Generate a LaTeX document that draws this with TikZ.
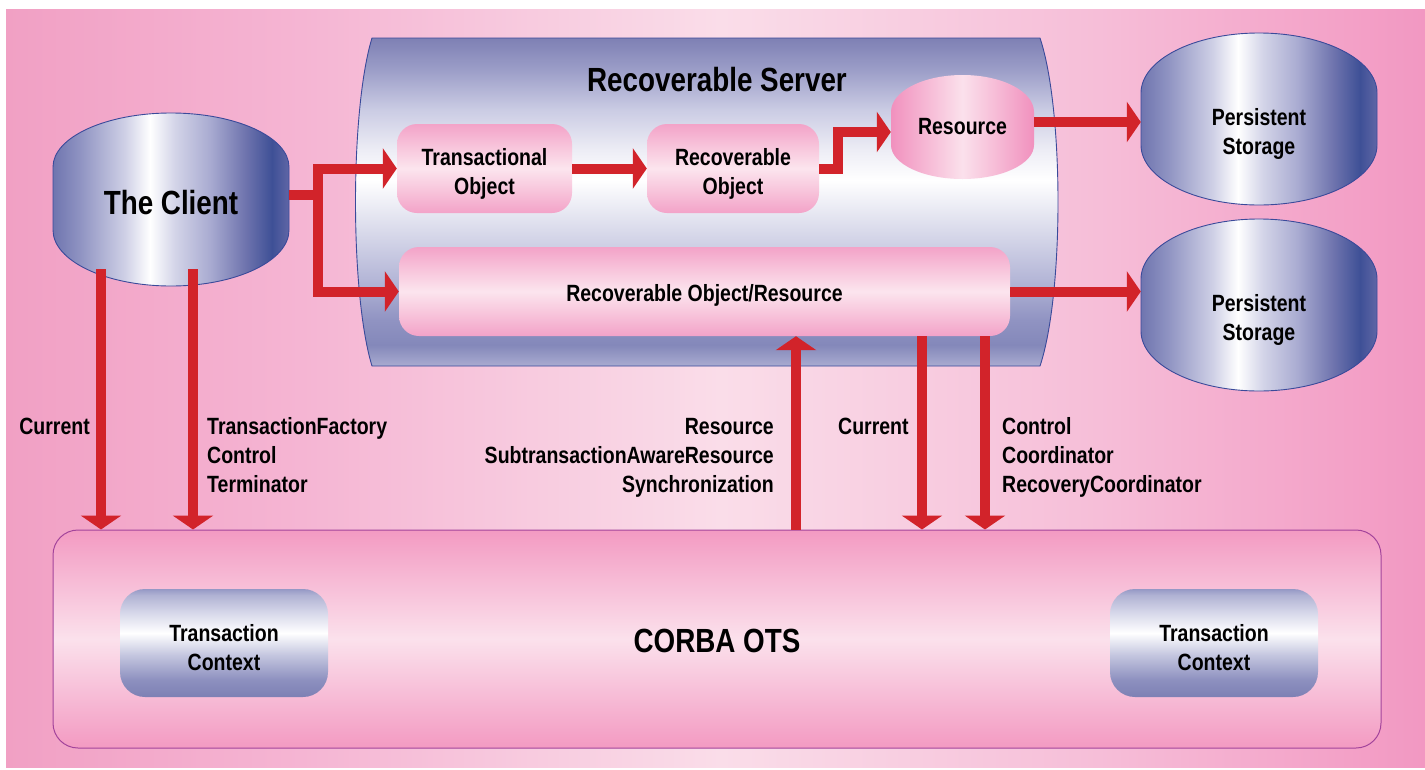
\documentclass[tikz,border=0pt]{standalone}
\usepackage{fontspec}
\setmainfont{Liberation Sans}[FakeStretch=0.83]
\usetikzlibrary{arrows.meta}
\definecolor{arrred}{HTML}{D2232A}
\definecolor{outl}{HTML}{3A4A9A}
\definecolor{corline}{HTML}{A3449B}
% background
\definecolor{bgL}{HTML}{F1A0C4}
\definecolor{bgA}{HTML}{F5B5D3}
\definecolor{bgM}{HTML}{FADDE9}
\definecolor{bgB}{HTML}{F6BED8}
\definecolor{bgR}{HTML}{F298C2}
% server
\definecolor{svA}{HTML}{A9ABD0}
\definecolor{svB}{HTML}{8488BA}
\definecolor{svC}{HTML}{9093C2}
\definecolor{svD}{HTML}{B4B6D7}
\definecolor{svE}{HTML}{EDEDF5}
\definecolor{svF}{HTML}{CBCCE4}
\definecolor{svG}{HTML}{9C9EC8}
\definecolor{svH}{HTML}{7E80B4}
% drums
\definecolor{drA}{HTML}{6F75AF}
\definecolor{drB}{HTML}{8F93C2}
\definecolor{drC}{HTML}{CFD0E6}
\definecolor{drD}{HTML}{D3D4E8}
\definecolor{drE}{HTML}{A9ABD1}
\definecolor{drF}{HTML}{6F74AE}
\definecolor{drG}{HTML}{3E5096}
\definecolor{drH}{HTML}{5F66A6}
% transaction context
\definecolor{tcA}{HTML}{7D80B4}
\definecolor{tcB}{HTML}{8D90BF}
\definecolor{tcC}{HTML}{C4C6DF}
\definecolor{tcD}{HTML}{D5D6E9}
\definecolor{tcE}{HTML}{B0B2D3}
\definecolor{tcF}{HTML}{9598C5}
% pinks
\definecolor{pkE}{HTML}{F3A3C8}
\definecolor{pkM}{HTML}{FCE5EE}
\definecolor{rsE}{HTML}{F191BE}
\definecolor{rsM}{HTML}{FBE1EC}
\definecolor{coE}{HTML}{F39AC2}
\definecolor{coM}{HTML}{FBE1EC}

\pgfdeclarehorizontalshading{bgshade}{100bp}{color(0bp)=(bgL); color(25bp)=(bgL); color(35.4bp)=(bgA); color(50.2bp)=(bgM); color(63.5bp)=(bgB); color(75bp)=(bgR); color(100bp)=(bgR)}
\pgfdeclareverticalshading{svshade}{100bp}{color(0bp)=(svA); color(25bp)=(svA); color(28.2bp)=(svB); color(32bp)=(svC); color(38.1bp)=(svD); color(53.35bp)=(white); color(57.9bp)=(svE); color(64bp)=(svF); color(70.1bp)=(svG); color(75bp)=(svH); color(100bp)=(svH)}
\pgfdeclarehorizontalshading{drumshade}{100bp}{color(0bp)=(drA); color(25bp)=(drA); color(30.7bp)=(drB); color(40.25bp)=(drC); color(45.55bp)=(white); color(50.85bp)=(drD); color(58.26bp)=(drE); color(65.7bp)=(drF); color(71.4bp)=(drG); color(75bp)=(drH); color(100bp)=(drH)}
\pgfdeclareverticalshading{tcshade}{100bp}{color(0bp)=(tcA); color(25bp)=(tcA); color(32.9bp)=(tcB); color(44.4bp)=(tcC); color(54.6bp)=(white); color(64.35bp)=(tcD); color(72.2bp)=(tcE); color(75bp)=(tcF); color(100bp)=(tcF)}

\tikzset{
  small/.style={font=\fontsize{23.5}{29}\selectfont\bfseries, inner sep=0pt, align=center},
  big/.style={font=\fontsize{33.5}{40}\selectfont\bfseries, inner sep=0pt},
  pinkbox/.style={inner sep=0pt, rounded corners=20pt, top color=pkE, bottom color=pkE, middle color=pkM},
  tcbox/.style={inner sep=0pt, rounded corners=25pt, shading=tcshade, minimum width=208pt, minimum height=108pt},
  ghost/.style={inner sep=0pt, draw=none},
  arr/.style={draw=arrred, line width=10pt, -{Triangle[width=40pt,length=14pt]}},
  redline/.style={draw=arrred, line width=10pt},
  drumline/.style={draw=outl, line width=0.9pt, shading=drumshade},
}

\begin{document}
\begin{tikzpicture}[x=1pt, y=-1pt]
\useasboundingbox (0,0) rectangle (1425,769);
\shade[shading=bgshade] (6,9) rectangle (1425,767);

% recoverable server cylinder
\shadedraw[shading=svshade, draw=outl, line width=0.9pt]
  (372,38) -- (1040,38) .. controls (1064,110) and (1064,294) .. (1040,366)
  -- (372,366) .. controls (350,294) and (350,110) .. (372,38) -- cycle;
\node[big] (title) at (717,80) {Recoverable Server};

% client drum
\shadedraw[drumline]
  (53,167) .. controls (53,137.2) and (105.8,113) .. (171,113)
  .. controls (236.2,113) and (289,137.2) .. (289,167) -- (289,230)
  .. controls (289,260.9) and (236.2,286) .. (171,286)
  .. controls (105.8,286) and (53,260.9) .. (53,230) -- cycle;
\node[big, minimum width=236pt, minimum height=173pt] (client) at (171,202.5) {The Client};

% persistent storage 1
\shadedraw[drumline]
  (1141,93) .. controls (1141,59.9) and (1193.8,33) .. (1259,33)
  .. controls (1324.2,33) and (1377,59.9) .. (1377,93) -- (1377,145)
  .. controls (1377,178.1) and (1324.2,205) .. (1259,205)
  .. controls (1193.8,205) and (1141,178.1) .. (1141,145) -- cycle;
\node[ghost, minimum width=236pt, minimum height=172pt] (st1) at (1259,119) {};
\node[small] (st1t) at ([yshift=-14.5pt]st1.center) {Persistent\\Storage};

% persistent storage 2
\shadedraw[drumline]
  (1141,279) .. controls (1141,245.9) and (1193.8,219) .. (1259,219)
  .. controls (1324.2,219) and (1377,245.9) .. (1377,279) -- (1377,331)
  .. controls (1377,364.1) and (1324.2,391) .. (1259,391)
  .. controls (1193.8,391) and (1141,364.1) .. (1141,331) -- cycle;
\node[ghost, minimum width=236pt, minimum height=172pt] (st2) at (1259,305) {};
\node[small] (st2t) at ([yshift=-14.5pt]st2.center) {Persistent\\Storage};

% resource drum
\shade[left color=rsE, right color=rsE, middle color=rsM]
  (891,112) .. controls (891,91.4) and (923,75) .. (962.5,75)
  .. controls (1002,75) and (1034,91.4) .. (1034,112) -- (1034,145)
  .. controls (1034,163.8) and (1002,179) .. (962.5,179)
  .. controls (923,179) and (891,163.8) .. (891,145) -- cycle;
\node[small, minimum width=143pt, minimum height=104pt] (res) at (962.5,127) {Resource};

% pink boxes
\node[pinkbox, minimum width=175pt, minimum height=89pt] (to) at (484.5,168.5) {};
\node[small] (tot) at ([yshift=-5pt]to.center) {Transactional\\Object};
\node[pinkbox, minimum width=172pt, minimum height=89pt] (ro) at (733,168.5) {};
\node[small] (rot) at ([yshift=-5pt]ro.center) {Recoverable\\Object};
\node[pinkbox, minimum width=611pt, minimum height=89pt] (ror) at (704.5,291.5) {};
\node[small] (rort) at ([yshift=-4pt]ror.center) {Recoverable Object/Resource};

% CORBA OTS
\node[draw=corline, line width=1pt, rounded corners=25pt, top color=coE, bottom color=coE, middle color=coM,
      minimum width=1328pt, minimum height=218pt] (corba) at (717,639) {};
\node[big] (corbat) at ([yshift=-2pt]corba.center) {CORBA OTS};
\node[tcbox] (tc1) at (224,643) {};
\node[small] (tc1t) at ([yshift=-5pt]tc1.center) {Transaction\\Context};
\node[tcbox] (tc2) at (1214,643) {};
\node[small] (tc2t) at ([yshift=-5pt]tc2.center) {Transaction\\Context};

% connectors
\coordinate (split) at (318,195);
\draw[redline] (client.east |- split) -- (split);
\draw[arr] (split) |- (to.west);
\draw[arr] (split) |- (ror.west);
\draw[arr] (to.east) -- (ro.west);
\coordinate (elb) at (838,168.5);
\draw[arr] (ro.east) -- (elb) |- ([yshift=-5pt]res.west);
\coordinate (rs) at ([yshift=5pt]res.east);
\draw[arr] (rs) -- (rs -| st1.west);
\draw[arr] (ror.east) -- (ror.east -| st2.west);

\coordinate (c1) at ([shift={(-70pt,20pt)}]client.south);
\coordinate (c2) at ([shift={(22pt,20pt)}]client.south);
\draw[arr] (c1) -- (c1 |- corba.north);
\draw[arr] (c2) -- (c2 |- corba.north);

\coordinate (u1) at ([xshift=91.5pt]ror.south);
\coordinate (d1) at ([xshift=217.5pt]ror.south);
\coordinate (d2) at ([xshift=280.5pt]ror.south);
\draw[arr] (u1 |- corba.north) -- (u1);
\draw[arr] (d1) -- (d1 |- corba.north);
\draw[arr] (d2) -- (d2 |- corba.north);

% labels
\node[small, anchor=east] (l1) at (90,426) {Current};
\node[small, align=left, anchor=west] (l2) at (207,455) {TransactionFactory\\Control\\Terminator};
\node[small, align=right, anchor=east] (l3) at (774,458) {Resource\\SubtransactionAwareResource\\Synchronization};
\node[small, anchor=west] (l4) at (838,426) {Current};
\node[small, align=left, anchor=west] (l5) at (1002,457) {Control\\Coordinator\\RecoveryCoordinator};
\end{tikzpicture}
\end{document}
